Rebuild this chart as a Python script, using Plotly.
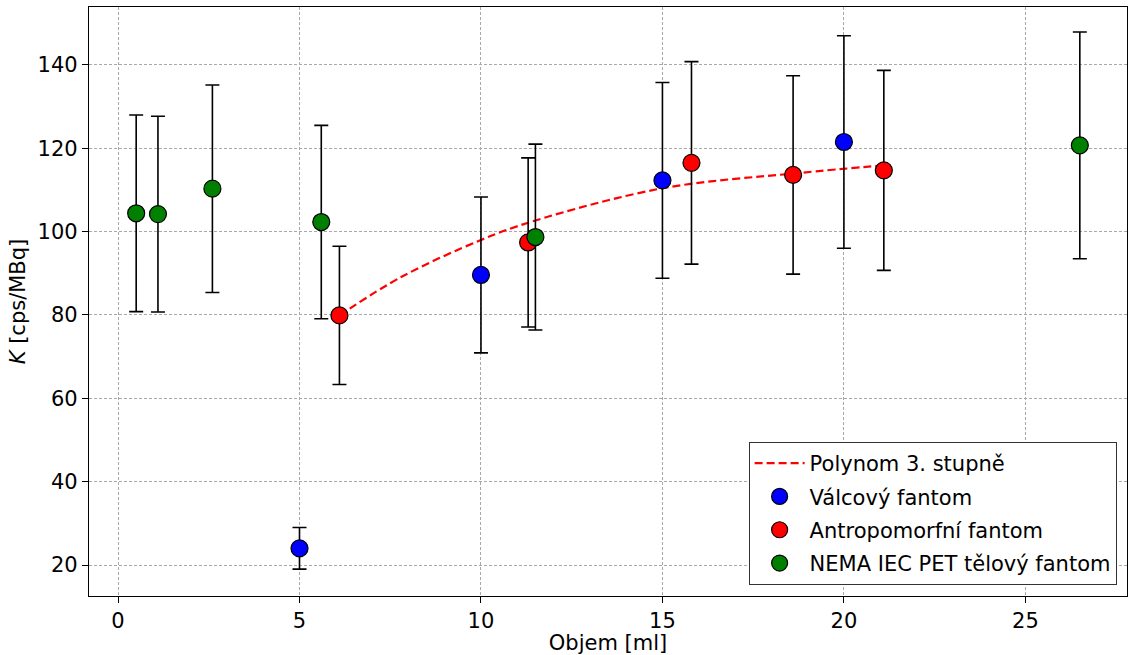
import plotly.graph_objects as go

# Polynomial curve
poly_x = [6.1, 7.8, 10.0, 11.4, 15.0, 18.8, 21.1]
poly_y = [79.9, 89.1, 98.0, 102.4, 110.4, 114.1, 115.9]

# Válcový fantom
val_x = [5.0, 10.0, 15.0, 20.0]
val_y = [24.0, 89.6, 112.3, 121.5]
val_err = [5.0, 18.7, 23.5, 25.5]

# Antropomorfní fantom
ant_x = [6.1, 11.3, 15.8, 18.6, 21.1]
ant_y = [79.9, 97.4, 116.5, 113.6, 114.7]
ant_err = [16.6, 20.3, 24.3, 23.8, 24.0]

# NEMA IEC PET tělový fantom
nema_x = [0.5, 1.1, 2.6, 5.6, 11.5, 26.5]
nema_y = [104.4, 104.2, 110.3, 102.3, 98.7, 120.7]
nema_err = [23.6, 23.5, 24.9, 23.2, 22.3, 27.2]

x_ticks = [0, 5, 10, 15, 20, 25]
y_ticks = [20, 40, 60, 80, 100, 120, 140]

FONT = "DejaVu Sans"
FS = 21

fig = go.Figure()
fig.add_trace(go.Scatter(
    x=poly_x, y=poly_y, mode="lines", name="Polynom 3. stupně", legendgroup="g0",
    line=dict(color="#ff0000", width=2.2, dash="8px,4px", shape="spline", smoothing=1.0),
))

def add_series(x, y, err, color, name, grp):
    fig.add_trace(go.Scatter(
        x=x, y=y, mode="markers", name=name, legendgroup=grp,
        marker=dict(color=color, size=17, line=dict(color="black", width=1.2)),
        error_y=dict(type="data", array=err, visible=True, color="black",
                     thickness=1.6, width=7),
    ))

add_series(val_x, val_y, val_err, "#0000ff", "Válcový fantom", "g1")
add_series(ant_x, ant_y, ant_err, "#ff0000", "Antropomorfní fantom", "g2")
add_series(nema_x, nema_y, nema_err, "#008000", "NEMA IEC PET tělový fantom", "g3")

axis_common = dict(
    showline=True, linecolor="black", linewidth=1.2, mirror=True,
    ticks="outside", tickcolor="black", ticklen=6, tickwidth=1.2,
    showgrid=True, gridcolor="#a8a8a8", gridwidth=0.6, griddash="3px,2px",
    zeroline=False, tickfont=dict(family=FONT, size=FS, color="black"),
)

fig.update_layout(
    width=1128, height=655,
    margin=dict(l=89, r=1, t=7, b=59),
    paper_bgcolor="white", plot_bgcolor="white",
    font=dict(family=FONT, size=FS, color="black"),
    xaxis=dict(range=[-0.8, 27.8], tickvals=x_ticks,
               title=dict(text="Objem [ml]", font=dict(family=FONT, size=FS), standoff=2),
               **axis_common),
    yaxis=dict(range=[12.56, 153.9], tickvals=y_ticks,
               title=dict(text="<i>K</i> [cps/MBq]", font=dict(family=FONT, size=FS), standoff=6),
               **axis_common),
    legend=dict(x=0.990, y=0.0187, xanchor="right", yanchor="bottom",
                bgcolor="white", bordercolor="#333333", borderwidth=1,
                font=dict(family=FONT, size=FS), tracegroupgap=3, itemwidth=50),
    showlegend=True,
)

fig.write_html("out.html")
